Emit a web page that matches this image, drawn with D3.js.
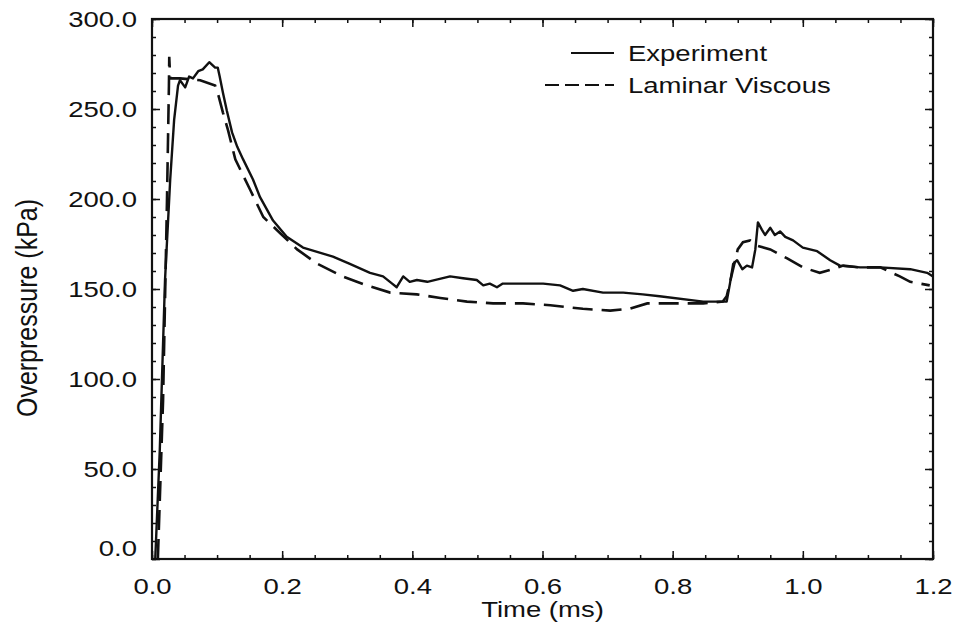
<!DOCTYPE html>
<html>
<head>
<meta charset="utf-8">
<script src="https://cdn.jsdelivr.net/npm/d3@7"></script>
<style>
body { margin: 0; background: #fff; }
text { font-family: "Liberation Sans", Arial, sans-serif; fill: #111; }
</style>
</head>
<body>
<svg id="chart" width="954" height="625"></svg>
<script>
// values
const expTime = [0.005,0.012,0.020,0.028,0.034,0.040,0.043,0.051,0.057,0.063,0.071,0.078,0.088,0.097,0.101,0.104,0.109,0.115,0.123,0.131,0.140,0.155,0.166,0.186,0.207,0.232,0.278,0.304,0.335,0.355,0.369,0.376,0.386,0.396,0.407,0.423,0.458,0.478,0.499,0.509,0.519,0.530,0.539,0.570,0.601,0.627,0.647,0.662,0.693,0.724,0.754,0.780,0.847,0.883,0.888,0.893,0.899,0.907,0.914,0.922,0.927,0.931,0.937,0.942,0.950,0.957,0.965,0.973,0.985,1.000,1.022,1.042,1.057,1.088,1.119,1.165,1.191,1.200];
const expPressure = [0,61,155,211,244,263,266,262,268,267,271,272,276,273,273,268,259,249,237,229,222,211,201,188,179,173,168,164,159,157,153,151,157,154,155,154,157,156,155,152,153,151,153,153,153,152,149,150,148,148,147,146,143,143,153,164,166,161,163,162,172,187,183,180,184,180,182,179,177,173,171,166,163,162,162,161,159,157];

const lamTime = [0.009,0.017,0.023,0.026,0.0265,0.028,0.043,0.074,0.097,0.101,0.109,0.117,0.128,0.151,0.171,0.197,0.223,0.254,0.293,0.330,0.366,0.407,0.443,0.484,0.524,0.570,0.612,0.662,0.704,0.734,0.761,0.811,0.847,0.877,0.883,0.900,0.908,0.919,0.930,0.950,0.976,1.000,1.026,1.046,1.062,1.088,1.119,1.149,1.165,1.195];
const lamPressure = [0,88,199,263,279,267,267,266,263,259,248,238,222,205,190,181,172,164,157,152,148,147,145,143,142,142,141,139,138,139,142,142,142,143,146,172,176,177,174,172,167,162,159,161,163,162,162,157,154,152];

const xTicks = [0, 0.2, 0.4, 0.6, 0.8, 1.0, 1.2];
const xMinor = d3.range(0, 1.2001, 0.05);
const yTicks = [0, 50, 100, 150, 200, 250, 300];
const yMinor = d3.range(0, 301, 10);

const seriesNames = ['Experiment', 'Laminar Viscous'];

const margin = { top: 19, right: 21, bottom: 66, left: 152 };
const W = 954, H = 625;
const sx = 1.25; // the scan is stretched sideways, text too

const svg = d3.select('#chart');
const g = svg.append('g').attr('transform', `translate(${margin.left},${margin.top})`);
const iw = W - margin.left - margin.right;
const ih = H - margin.top - margin.bottom;

let x = d3.scaleLinear().domain([0, 1.2]).range([0, iw]);
let y = d3.scaleLinear().domain([0, 300]).range([ih, 0]);

function drawAxis(axis, transform, labels) {
  let a = g.append('g').attr('transform', transform).call(axis);
  a.select('.domain').remove();
  a.selectAll('line').attr('stroke', '#111').attr('stroke-width', 1.5);
  if (!labels) a.selectAll('text').remove();
  return a;
}

// minor ticks, every side
drawAxis(d3.axisBottom(x).tickValues(xMinor).tickSize(-4).tickFormat(''), `translate(0,${ih})`, false);
drawAxis(d3.axisTop(x).tickValues(xMinor).tickSize(-4).tickFormat(''), 'translate(0,0)', false);
drawAxis(d3.axisLeft(y).tickValues(yMinor).tickSize(-4).tickFormat(''), 'translate(0,0)', false);
drawAxis(d3.axisRight(y).tickValues(yMinor).tickSize(-4).tickFormat(''), `translate(${iw},0)`, false);

// major ticks
let xb = drawAxis(d3.axisBottom(x).tickValues(xTicks).tickSize(-8).tickPadding(19).tickFormat(d3.format('.1f')), `translate(0,${ih})`, true);
drawAxis(d3.axisTop(x).tickValues(xTicks).tickSize(-8).tickFormat(''), 'translate(0,0)', false);
let yl = drawAxis(d3.axisLeft(y).tickValues(yTicks).tickSize(-8).tickPadding(15).tickFormat(d3.format('.1f')), 'translate(0,0)', true);
drawAxis(d3.axisRight(y).tickValues(yTicks).tickSize(-8).tickFormat(''), `translate(${iw},0)`, false);

xb.selectAll('text')
  .attr('font-size', 22)
  .attr('font-family', '"Liberation Sans", Arial, sans-serif')
  .attr('fill', '#111')
  .attr('transform', `scale(${sx},1)`);
yl.selectAll('text')
  .attr('font-size', 22)
  .attr('font-family', '"Liberation Sans", Arial, sans-serif')
  .attr('fill', '#111')
  .attr('x', -15 / sx)
  .attr('transform', `scale(${sx},1)`);
// the zero label sits a little higher in the original
yl.selectAll('.tick').filter(d => d === 0).select('text').attr('dy', '-0.15em');

// frame
g.append('rect')
  .attr('width', iw).attr('height', ih)
  .attr('fill', 'none').attr('stroke', '#111').attr('stroke-width', 2.2);

// lines
let line = d3.line().x(d => x(d[0])).y(d => y(d[1]));
let expData = d3.zip(expTime, expPressure);
let lamData = d3.zip(lamTime, lamPressure);

g.append('path')
  .attr('d', line(lamData))
  .attr('fill', 'none').attr('stroke', '#111')
  .attr('stroke-width', 2.6)
  .attr('stroke-dasharray', '20,9');

g.append('path')
  .attr('d', line(expData))
  .attr('fill', 'none').attr('stroke', '#111')
  .attr('stroke-width', 2.4)
  .attr('stroke-linejoin', 'round');

// legend
let legend = svg.append('g');
let legendRows = [
  { name: seriesNames[0], y: 53, x1: 571, dash: null },
  { name: seriesNames[1], y: 85, x1: 545, dash: '14,6' }
];
legendRows.forEach(r => {
  legend.append('line')
    .attr('x1', r.x1).attr('x2', 614)
    .attr('y1', r.y).attr('y2', r.y)
    .attr('stroke', '#111').attr('stroke-width', 2.2)
    .attr('stroke-dasharray', r.dash);
  legend.append('text')
    .attr('transform', `translate(628,${r.y + 8}) scale(${sx},1)`)
    .attr('font-size', 22)
    .text(r.name);
});

// axis titles
svg.append('text')
  .attr('transform', `translate(${margin.left + iw / 2},617) scale(${sx},1)`)
  .attr('text-anchor', 'middle')
  .attr('font-size', 22)
  .text('Time (ms)');

svg.append('text')
  .attr('transform', `translate(37,308) scale(1.15,1) rotate(-90)`)
  .attr('text-anchor', 'middle')
  .attr('font-size', 25)
  .text('Overpressure (kPa)');
</script>
</body>
</html>
